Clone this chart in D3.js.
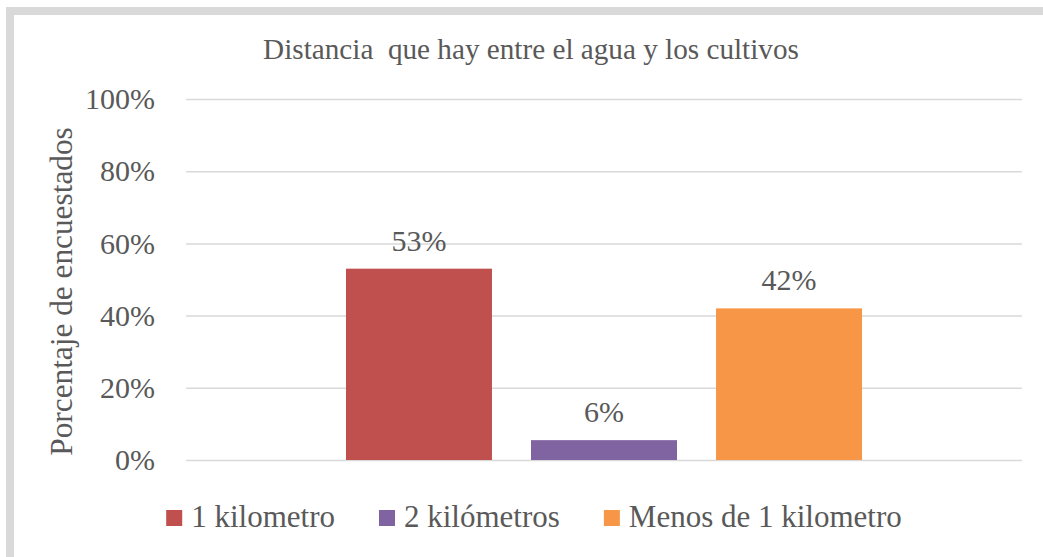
<!DOCTYPE html>
<html>
<head>
<meta charset="utf-8">
<script src="https://cdnjs.cloudflare.com/ajax/libs/d3/7.8.5/d3.min.js"></script>
<style>
  html, body { margin: 0; padding: 0; background: #fff; }
  svg { display: block; }
  svg text { font-family: "Liberation Serif", "Times New Roman", serif; fill: #595959; }
</style>
</head>
<body>
<svg class="grafico" width="1043" height="557"></svg>
<script>
const categorias = [""];
const series = ["1 kilometro", "2 kilómetros", "Menos de 1 kilometro"];
const valores = [0.53, 0.055, 0.42];
const etiquetas = ["53%", "6%", "42%"];
const colores = ["#C0504D", "#8064A2", "#F79646"];
const ticks = [0, 0.2, 0.4, 0.6, 0.8, 1];

const fuente = "'Liberation Serif', 'Times New Roman', serif";
const svg = d3.select(".grafico");
const width = 1043;
const height = 557;
const margin = { top: 99, right: 21, bottom: 97, left: 186 };

// marco gris
svg.append("rect")
  .attr("x", 10).attr("y", 11)
  .attr("width", 1045).attr("height", 550)
  .attr("fill", "#fff")
  .attr("stroke", "#D9D9D9")
  .attr("stroke-width", 8);

// escalas
const x0 = d3.scaleBand()
  .domain(categorias)
  .range([margin.left, width - margin.right])
  .paddingOuter(0.31);

const x1 = d3.scaleBand()
  .domain(series)
  .range([0, x0.bandwidth()])
  .paddingInner(0.211);

const y = d3.scaleLinear()
  .domain([0, 1])
  .range([height - margin.bottom, margin.top]);

// eje y con lineas de cuadricula
const ejeY = svg.append("g")
  .attr("transform", `translate(${margin.left}, 0)`)
  .call(d3.axisLeft(y)
    .tickValues(ticks)
    .tickFormat(d3.format(".0%"))
    .tickSize(-(width - margin.left - margin.right))
    .tickPadding(31));
ejeY.attr("font-family", null).attr("font-size", null);
ejeY.select(".domain").remove();
ejeY.selectAll(".tick line").attr("stroke", "#D9D9D9").attr("stroke-width", 1.5);
ejeY.selectAll(".tick text")
  .style("font-family", fuente)
  .style("font-size", "30px")
  .attr("fill", "#595959");

// barras
const filas = series.map((s, i) => ({ serie: s, valor: valores[i], etiqueta: etiquetas[i], color: colores[i], cat: categorias[0] }));

svg.append("g").selectAll("rect")
  .data(filas)
  .join("rect")
  .attr("x", d => x0(d.cat) + x1(d.serie))
  .attr("y", d => y(d.valor))
  .attr("width", x1.bandwidth())
  .attr("height", d => y(0) - y(d.valor))
  .attr("fill", d => d.color);

// etiquetas de datos
svg.append("g").selectAll("text")
  .data(filas)
  .join("text")
  .attr("x", d => x0(d.cat) + x1(d.serie) + x1.bandwidth() / 2)
  .attr("y", d => y(d.valor) - 18)
  .attr("text-anchor", "middle")
  .style("font-family", fuente)
  .style("font-size", "30px")
  .text(d => d.etiqueta);

// titulo
svg.append("text")
  .attr("x", 531)
  .attr("y", 59)
  .attr("text-anchor", "middle")
  .style("font-family", fuente)
  .style("font-size", "29.2px")
  .style("white-space", "pre")
  .text("Distancia  que hay entre el agua y los cultivos");

// titulo eje y
svg.append("text")
  .attr("transform", `translate(72, ${(y(0) + y(1)) / 2 + 12}) rotate(-90)`)
  .attr("text-anchor", "middle")
  .style("font-family", fuente)
  .style("font-size", "31.3px")
  .text("Porcentaje de encuestados");

// leyenda
const leyenda = svg.append("g");
let lx = 0;
series.forEach((s, i) => {
  const g = leyenda.append("g").attr("transform", `translate(${lx}, 0)`);
  g.append("rect")
    .attr("x", 0).attr("y", -17)
    .attr("width", 16).attr("height", 16)
    .attr("fill", colores[i]);
  const t = g.append("text")
    .attr("x", 25).attr("y", 0)
    .style("font-family", fuente)
    .style("font-size", "31px")
    .text(s);
  lx += 25 + t.node().getComputedTextLength() + 44;
});
const anchoLeyenda = lx - 44;
leyenda.attr("transform", `translate(${534 - anchoLeyenda / 2}, 527)`);
</script>
</body>
</html>
